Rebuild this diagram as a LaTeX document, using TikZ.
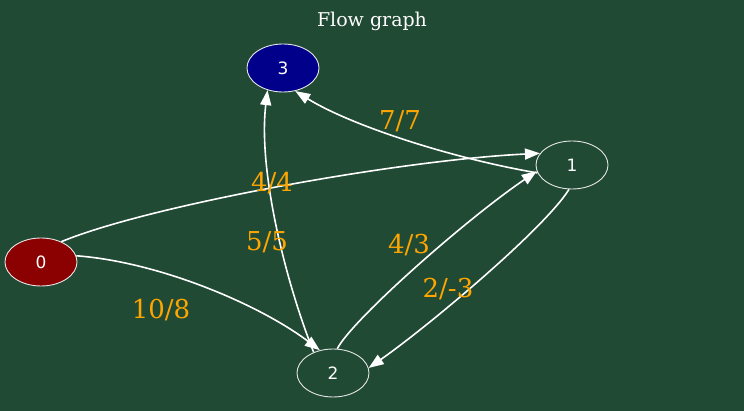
\documentclass[tikz,border=0pt]{standalone}
\usepackage{fontspec}
\setmainfont{DejaVu Serif}
\newfontfamily\vertexfont{DejaVu Sans}
\usepackage{xcolor}
\usepackage{tikz}
\usetikzlibrary{arrows.meta, positioning, shapes.geometric, calc}

\definecolor{boardgreen}{RGB}{32,74,52}
\definecolor{srcred}{RGB}{139,0,0}
\definecolor{sinkblue}{RGB}{0,0,139}
\definecolor{flowlabel}{RGB}{255,165,0}

\tikzset{
  vertex/.style={ellipse, draw=white!90!black, line width=0.9pt, text=white,
    minimum width=72pt, minimum height=48pt, inner sep=0pt,
    font=\vertexfont\fontsize{17}{20}\selectfont},
  flow/.style={white, line width=1.6pt, -{Triangle[length=15pt,width=11pt]}},
  flowtext/.style={text=flowlabel, anchor=base, font=\fontsize{26}{30}\selectfont}
}

\begin{document}
\begin{tikzpicture}[x=1pt, y=-1pt]
% Background
\fill[boardgreen] (0,0) rectangle (744,411);
\useasboundingbox (0,0) rectangle (744,411);
\node[text=white, anchor=base, font=\fontsize{19}{22}\selectfont] (title) at (372,27) {Flow graph};
% Vertices
\node[vertex, fill=srcred] (n0) at (41,262) {0};
\node[vertex] (n1) at (572,165) {1};
\node[vertex] (n2) at (333,373) {2};
\node[vertex, fill=sinkblue] (n3) at (283,68) {3};
% Edges
\draw[flow] (n0.45) .. controls (150,205) and (400,160) .. (n1.160);
\draw[flow] (n0.10) .. controls (160,262) and (260,305) .. (n2.120);
\draw[flow] (n2.133) .. controls (285,280) and (258,170) .. (n3.235);
\draw[flow] (n1.193) .. controls (450,158) and (350,125) .. (n3.298);
\draw[flow] (n2.80) .. controls (352,320) and (465,220) .. (n1.190);
\draw[flow] (n1.263) .. controls (545,228) and (430,325) .. (n2.8);
% Flow / capacity labels
\node[flowtext] (l01) at (272,192) {4/4};
\node[flowtext] (l02) at (161,319) {10/8};
\node[flowtext] (l23) at (267,251) {5/5};
\node[flowtext] (l13) at (400,130) {7/7};
\node[flowtext] (l21) at (409,254) {4/3};
\node[flowtext] (l12) at (448,298) {2/-3};
\end{tikzpicture}
\end{document}
